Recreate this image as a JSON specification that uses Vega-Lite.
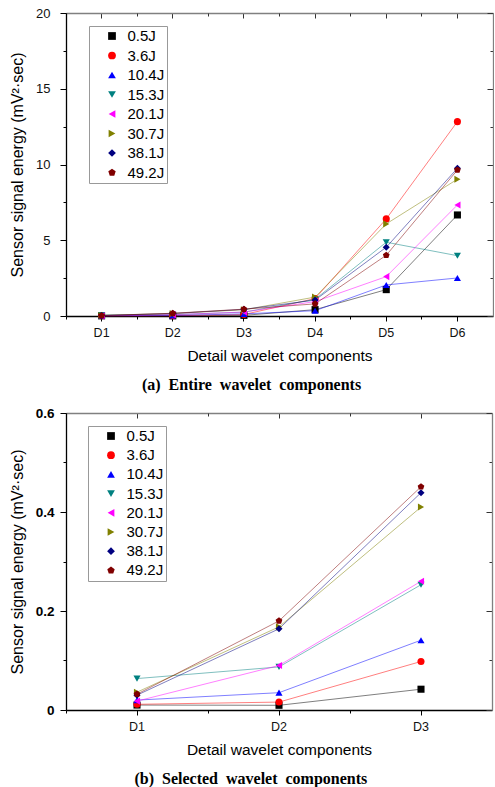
{
  "$schema": "https://vega.github.io/schema/vega-lite/v6.json",
  "padding": {"left": 9, "top": 7, "right": 0, "bottom": 0},
  "background": "#ffffff",
  "config": {
    "font": "Liberation Sans",
    "view": {"stroke": null},
    "axis": {"grid": false, "labelColor": "#111", "titleColor": "#000", "titleFontWeight": "normal"},
    "title": {"font": "Liberation Serif", "fontSize": 16, "fontWeight": "bold", "color": "#000"}
  },
  "datasets": {
    "energy": [
      {"component": "D1", "series": "0.5J", "energy": 0.010},
      {"component": "D2", "series": "0.5J", "energy": 0.0095},
      {"component": "D3", "series": "0.5J", "energy": 0.042},
      {"component": "D4", "series": "0.5J", "energy": 0.42},
      {"component": "D5", "series": "0.5J", "energy": 1.74},
      {"component": "D6", "series": "0.5J", "energy": 6.67},
      {"component": "D1", "series": "3.6J", "energy": 0.0115},
      {"component": "D2", "series": "3.6J", "energy": 0.016},
      {"component": "D3", "series": "3.6J", "energy": 0.098},
      {"component": "D4", "series": "3.6J", "energy": 1.15},
      {"component": "D5", "series": "3.6J", "energy": 6.41},
      {"component": "D6", "series": "3.6J", "energy": 12.83},
      {"component": "D1", "series": "10.4J", "energy": 0.020},
      {"component": "D2", "series": "10.4J", "energy": 0.035},
      {"component": "D3", "series": "10.4J", "energy": 0.141},
      {"component": "D4", "series": "10.4J", "energy": 0.35},
      {"component": "D5", "series": "10.4J", "energy": 2.05},
      {"component": "D6", "series": "10.4J", "energy": 2.51},
      {"component": "D1", "series": "15.3J", "energy": 0.0635},
      {"component": "D2", "series": "15.3J", "energy": 0.087},
      {"component": "D3", "series": "15.3J", "energy": 0.253},
      {"component": "D4", "series": "15.3J", "energy": 1.1},
      {"component": "D5", "series": "15.3J", "energy": 4.87},
      {"component": "D6", "series": "15.3J", "energy": 3.98},
      {"component": "D1", "series": "20.1J", "energy": 0.018},
      {"component": "D2", "series": "20.1J", "energy": 0.090},
      {"component": "D3", "series": "20.1J", "energy": 0.260},
      {"component": "D4", "series": "20.1J", "energy": 0.95},
      {"component": "D5", "series": "20.1J", "energy": 2.60},
      {"component": "D6", "series": "20.1J", "energy": 7.33},
      {"component": "D1", "series": "30.7J", "energy": 0.036},
      {"component": "D2", "series": "30.7J", "energy": 0.168},
      {"component": "D3", "series": "30.7J", "energy": 0.410},
      {"component": "D4", "series": "30.7J", "energy": 1.25},
      {"component": "D5", "series": "30.7J", "energy": 6.08},
      {"component": "D6", "series": "30.7J", "energy": 9.03},
      {"component": "D1", "series": "38.1J", "energy": 0.030},
      {"component": "D2", "series": "38.1J", "energy": 0.164},
      {"component": "D3", "series": "38.1J", "energy": 0.439},
      {"component": "D4", "series": "38.1J", "energy": 1.05},
      {"component": "D5", "series": "38.1J", "energy": 4.54},
      {"component": "D6", "series": "38.1J", "energy": 9.75},
      {"component": "D1", "series": "49.2J", "energy": 0.032},
      {"component": "D2", "series": "49.2J", "energy": 0.180},
      {"component": "D3", "series": "49.2J", "energy": 0.451},
      {"component": "D4", "series": "49.2J", "energy": 0.80},
      {"component": "D5", "series": "49.2J", "energy": 4.01},
      {"component": "D6", "series": "49.2J", "energy": 9.64}
    ]
  },
  "spacing": 13,
  "resolve": {
    "scale": {"color": "independent", "shape": "independent"},
    "legend": {"color": "independent", "shape": "independent"}
  },
  "vconcat": [
    {
      "width": 427,
      "height": 303,
      "data": {"name": "energy"},
      "title": {"text": "(a)\u00a0 Entire\u00a0 wavelet\u00a0 components", "orient": "bottom", "anchor": "middle", "frame": "bounds", "offset": 13},
      "layer": [
        {
          "mark": {"type": "line", "strokeWidth": 1, "strokeOpacity": 0.5},
          "encoding": {
            "x": {"field": "component", "type": "ordinal", "bandPosition": 0.5,
                  "scale": {"type": "band", "paddingInner": 0, "paddingOuter": 0},
                  "axis": {"orient": "bottom", "title": "Detail wavelet components", "titleFontSize": 15.5, "titlePadding": 10,
                           "labelAngle": 0, "labelFontSize": 12.5, "labelPadding": 5, "tickSize": 5, "bandPosition": 0.5,
                           "domainColor": "#000", "domainWidth": 1.3, "tickColor": "#000"}},
            "y": {"field": "energy", "type": "quantitative",
                  "scale": {"domain": [0, 20], "nice": false},
                  "axis": {"orient": "left", "title": "Sensor signal energy (mV\u00b2\u00b7sec)", "titleFontSize": 16, "titlePadding": 10,
                           "values": [0, 2.5, 5, 7.5, 10, 12.5, 15, 17.5, 20],
                           "labelExpr": "datum.value % 5 === 0 ? format(datum.value, 'd') : ''",
                           "labelFontSize": 13, "labelPadding": 10,
                           "tickSize": {"condition": {"test": "datum.value % 5 === 0", "value": 6}, "value": 3},
                           "domainColor": "#000", "domainWidth": 1.3, "tickColor": "#000"}},
            "color": {"field": "series", "type": "nominal",
                      "scale": {"domain": ["0.5J", "3.6J", "10.4J", "15.3J", "20.1J", "30.7J", "38.1J", "49.2J"],
                                "range": ["#000000", "#ff0000", "#0000ff", "#008080", "#ff00ff", "#808000", "#000080", "#800000"]},
                      "legend": {"orient": "none", "legendX": 23, "legendY": 13, "title": null, "fillColor": "#ffffff", "strokeColor": "#999999",
                                 "padding": 2.5, "symbolSize": 60, "symbolOffset": 13, "symbolOpacity": 1, "symbolStrokeWidth": 0,
                                 "labelOffset": 8, "labelFontSize": 15, "labelColor": "#000", "rowPadding": 3.5}}
          }
        },
        {
          "mark": {"type": "point", "filled": true, "size": 50, "opacity": 1},
          "encoding": {
            "x": {"field": "component", "type": "ordinal", "bandPosition": 0.5,
                  "scale": {"type": "band", "paddingInner": 0, "paddingOuter": 0},
                  "axis": {"orient": "top", "title": null, "labels": false, "tickSize": -5, "bandPosition": 0.5,
                           "domainColor": "#808080", "domainWidth": 1.3, "tickColor": "#333"}},
            "y": {"field": "energy", "type": "quantitative",
                  "scale": {"domain": [0, 20], "nice": false},
                  "axis": {"orient": "right", "title": null, "labels": false,
                           "values": [0, 2.5, 5, 7.5, 10, 12.5, 15, 17.5, 20],
                           "tickSize": {"condition": {"test": "datum.value % 5 === 0", "value": -6}, "value": -3},
                           "domainColor": "#808080", "domainWidth": 1.3, "tickColor": "#333"}},
            "color": {"field": "series", "type": "nominal", "legend": null,
                      "scale": {"domain": ["0.5J", "3.6J", "10.4J", "15.3J", "20.1J", "30.7J", "38.1J", "49.2J"],
                                "range": ["#000000", "#ff0000", "#0000ff", "#008080", "#ff00ff", "#808000", "#000080", "#800000"]}},
            "shape": {"field": "series", "type": "nominal", "legend": null,
                      "scale": {"domain": ["0.5J", "3.6J", "10.4J", "15.3J", "20.1J", "30.7J", "38.1J", "49.2J"],
                                "range": ["square", "circle", "triangle-up", "triangle-down", "triangle-left", "triangle-right", "diamond", "M0,-1L0.951,-0.309L0.588,0.809L-0.588,0.809L-0.951,-0.309Z"]}}
          }
        },
        {
          "mark": {"type": "point", "opacity": 0},
          "encoding": {
            "x": {"field": "component", "type": "ordinal", "bandPosition": 0.5,
                  "scale": {"type": "band", "paddingInner": 0, "paddingOuter": 0},
                  "axis": {"orient": "bottom", "title": null, "labels": false, "domain": false, "tickSize": 3, "bandPosition": 0, "tickColor": "#000"}},
            "y": {"field": "energy", "type": "quantitative", "axis": null}
          }
        },
        {
          "mark": {"type": "point", "opacity": 0},
          "encoding": {
            "x": {"field": "component", "type": "ordinal", "bandPosition": 0.5,
                  "scale": {"type": "band", "paddingInner": 0, "paddingOuter": 0},
                  "axis": {"orient": "top", "title": null, "labels": false, "domain": false, "tickSize": -3, "bandPosition": 0, "tickColor": "#333"}},
            "y": {"field": "energy", "type": "quantitative", "axis": null}
          }
        }
      ],
      "resolve": {"axis": {"x": "independent", "y": "independent"}}
    },
    {
      "width": 426,
      "height": 297,
      "data": {"name": "energy"},
      "transform": [{"filter": {"field": "component", "oneOf": ["D1", "D2", "D3"]}}],
      "title": {"text": "(b)\u00a0 Selected\u00a0 wavelet\u00a0 components", "orient": "bottom", "anchor": "middle", "frame": "bounds", "offset": 13},
      "layer": [
        {
          "mark": {"type": "line", "strokeWidth": 1, "strokeOpacity": 0.5},
          "encoding": {
            "x": {"field": "component", "type": "ordinal", "bandPosition": 0.5,
                  "scale": {"type": "band", "paddingInner": 0, "paddingOuter": 0},
                  "axis": {"orient": "bottom", "title": "Detail wavelet components", "titleFontSize": 15.5, "titlePadding": 10,
                           "labelAngle": 0, "labelFontSize": 12.5, "labelPadding": 5, "tickSize": 5, "bandPosition": 0.5,
                           "domainColor": "#000", "domainWidth": 1.3, "tickColor": "#000"}},
            "y": {"field": "energy", "type": "quantitative",
                  "scale": {"domain": [0, 0.6], "nice": false},
                  "axis": {"orient": "left", "title": "Sensor signal energy (mV\u00b2\u00b7sec)", "titleFontSize": 16, "titlePadding": 10,
                           "values": [0, 0.1, 0.2, 0.3, 0.4, 0.5, 0.6],
                           "labelExpr": "round(datum.value * 10) % 2 === 0 ? format(datum.value, '.1~f') : ''",
                           "labelFontSize": 13.5, "labelFontWeight": "bold", "labelColor": "#000", "labelPadding": 6,
                           "tickSize": {"condition": {"test": "round(datum.value * 10) % 2 === 0", "value": 6}, "value": 3},
                           "domainColor": "#000", "domainWidth": 1.3, "tickColor": "#000"}},
            "color": {"field": "series", "type": "nominal",
                      "scale": {"domain": ["0.5J", "3.6J", "10.4J", "15.3J", "20.1J", "30.7J", "38.1J", "49.2J"],
                                "range": ["#000000", "#ff0000", "#0000ff", "#008080", "#ff00ff", "#808000", "#000080", "#800000"]},
                      "legend": {"orient": "none", "legendX": 22, "legendY": 13, "title": null, "fillColor": "#ffffff", "strokeColor": "#999999",
                                 "padding": 2.5, "symbolSize": 60, "symbolOffset": 13, "symbolOpacity": 1, "symbolStrokeWidth": 0,
                                 "labelOffset": 8, "labelFontSize": 15, "labelColor": "#000", "rowPadding": 3.2}}
          }
        },
        {
          "mark": {"type": "point", "filled": true, "size": 50, "opacity": 1},
          "encoding": {
            "x": {"field": "component", "type": "ordinal", "bandPosition": 0.5,
                  "scale": {"type": "band", "paddingInner": 0, "paddingOuter": 0},
                  "axis": {"orient": "top", "title": null, "labels": false, "tickSize": -5, "bandPosition": 0.5,
                           "domainColor": "#808080", "domainWidth": 1.3, "tickColor": "#333"}},
            "y": {"field": "energy", "type": "quantitative",
                  "scale": {"domain": [0, 0.6], "nice": false},
                  "axis": {"orient": "right", "title": null, "labels": false,
                           "values": [0, 0.1, 0.2, 0.3, 0.4, 0.5, 0.6],
                           "tickSize": {"condition": {"test": "round(datum.value * 10) % 2 === 0", "value": -6}, "value": -3},
                           "domainColor": "#808080", "domainWidth": 1.3, "tickColor": "#333"}},
            "color": {"field": "series", "type": "nominal", "legend": null,
                      "scale": {"domain": ["0.5J", "3.6J", "10.4J", "15.3J", "20.1J", "30.7J", "38.1J", "49.2J"],
                                "range": ["#000000", "#ff0000", "#0000ff", "#008080", "#ff00ff", "#808000", "#000080", "#800000"]}},
            "shape": {"field": "series", "type": "nominal", "legend": null,
                      "scale": {"domain": ["0.5J", "3.6J", "10.4J", "15.3J", "20.1J", "30.7J", "38.1J", "49.2J"],
                                "range": ["square", "circle", "triangle-up", "triangle-down", "triangle-left", "triangle-right", "diamond", "M0,-1L0.951,-0.309L0.588,0.809L-0.588,0.809L-0.951,-0.309Z"]}}
          }
        },
        {
          "mark": {"type": "point", "opacity": 0},
          "encoding": {
            "x": {"field": "component", "type": "ordinal", "bandPosition": 0.5,
                  "scale": {"type": "band", "paddingInner": 0, "paddingOuter": 0},
                  "axis": {"orient": "bottom", "title": null, "labels": false, "domain": false, "tickSize": 3, "bandPosition": 0, "tickColor": "#000"}},
            "y": {"field": "energy", "type": "quantitative", "axis": null}
          }
        },
        {
          "mark": {"type": "point", "opacity": 0},
          "encoding": {
            "x": {"field": "component", "type": "ordinal", "bandPosition": 0.5,
                  "scale": {"type": "band", "paddingInner": 0, "paddingOuter": 0},
                  "axis": {"orient": "top", "title": null, "labels": false, "domain": false, "tickSize": -3, "bandPosition": 0, "tickColor": "#333"}},
            "y": {"field": "energy", "type": "quantitative", "axis": null}
          }
        }
      ],
      "resolve": {"axis": {"x": "independent", "y": "independent"}}
    }
  ]
}
